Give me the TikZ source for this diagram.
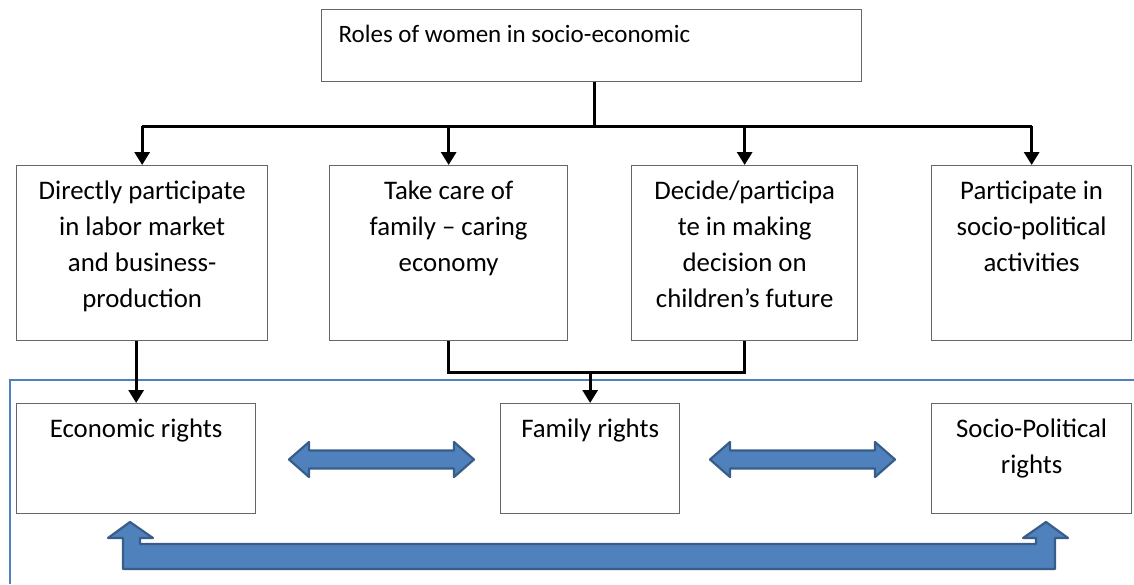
\documentclass[tikz,border=0pt]{standalone}
\usepackage{fontspec}
\setmainfont{Carlito}
\usetikzlibrary{arrows.meta}
\definecolor{fatblue}{HTML}{4F81BD}
\definecolor{fatedge}{HTML}{385D8A}
\newcommand{\cell}[3]{\parbox[t][#2pt][t]{#1pt}{\vspace*{9pt}\centering\strut #3}}
\newcommand{\twoway}[2]{\draw[fat] (#1,#2) -- ++(20,-17.5) -- ++(0,8.5) -- ++(145,0) -- ++(0,-8.5) -- ++(20,17.5) -- ++(-20,17.5) -- ++(0,-8.5) -- ++(-145,0) -- ++(0,8.5) -- cycle;}
\begin{document}
\begin{tikzpicture}[x=1pt, y=-1pt,
	role/.style={draw=black!60, line width=1.3pt, inner sep=0pt, anchor=north west, font=\fontsize{26.8}{36}\selectfont},
	wire/.style={line width=3pt},
	link/.style={line width=3pt, -{Triangle[width=15pt,length=13pt]}},
	frame/.style={draw=fatblue, line width=1.5pt},
	fat/.style={fill=fatblue, draw=fatedge, line width=2.2pt, line join=round}]
	\useasboundingbox (0,0) rectangle (1134,584);
	\draw[frame] (1134,380) -- (10,380) -- (10,584);
	\node[role, font=\fontsize{25}{34}\selectfont] (roles) at (321,9) {\parbox[t][72pt][t]{540pt}{\vspace*{9pt}\hspace*{17pt}\strut Roles of women in socio-economic}};
	\node[role] (direct)   at (16,165)  {\cell{251}{175}{Directly participate\\ in labor market\\ and business-\\ production}};
	\node[role] (care)     at (329,165) {\cell{238}{175}{Take care of\\ family -- caring\\ economy}};
	\node[role] (decide)   at (631,165) {\cell{226}{175}{Decide/participa\\ te in making\\ decision on\\ children’s future}};
	\node[role] (politics) at (931,165) {\cell{200}{175}{Participate in\\ socio-political\\ activities}};
	\node[role] (econ)     at (16,403)  {\cell{239}{110}{Economic rights}};
	\node[role] (family)   at (500,403) {\cell{179}{110}{Family rights}};
	\node[role] (socpol)   at (931,403) {\cell{200}{110}{Socio-Political\\ rights}};
	\coordinate (split) at (594,126);
	\draw[wire] (split |- roles.south) -- (split);
	\draw[wire] (direct.north |- split) -- (politics.north |- split);
	\foreach \n in {direct,care,decide,politics}
		\draw[link] (\n.north |- split) -- (\n.north);
	\draw[link] (econ.north |- direct.south) -- (econ.north);
	\draw[wire] (care.south) -- ++(0,31) coordinate (join) -| (decide.south);
	\draw[link] (join -| family.north) -- (family.north);
	\twoway{289}{459.5}
	\twoway{710}{459.5}
	\draw[fat] (123,569) -- (123,538) -- (108,538) -- (130,522) -- (153,538) -- (140,538) -- (140,544) -- (1036,544) -- (1036,538) -- (1023,538) -- (1046,522) -- (1068,538) -- (1055,538) -- (1055,569) -- cycle;
\end{tikzpicture}
\end{document}
